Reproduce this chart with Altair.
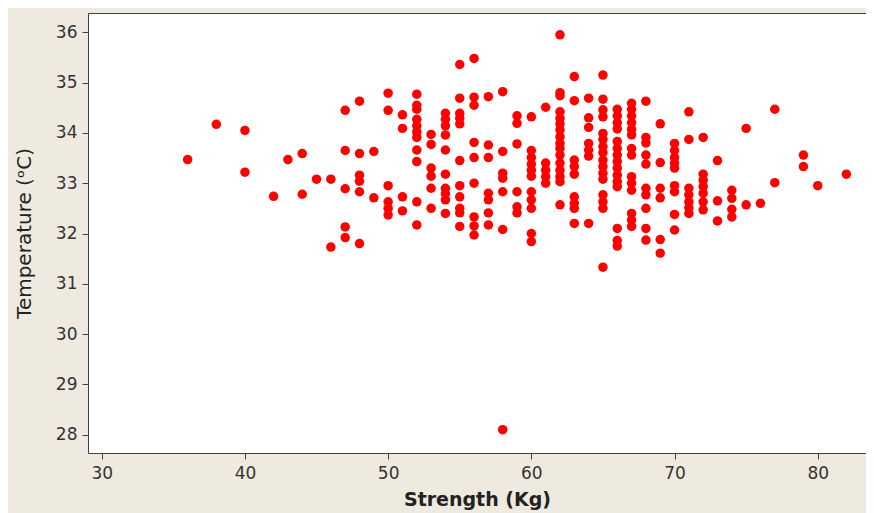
import altair as alt
import pandas as pd

# Strength (Kg) columns and the temperatures (°C) read at each column
strength_levels = [36, 38, 40, 42, 43, 44, 45, 46, 47, 48, 49, 50, 51, 52, 53, 54, 55, 56, 57, 58,
                   59, 60, 61, 62, 63, 64, 65, 66, 67, 68, 69, 70, 71, 72, 73, 74, 75, 76, 77, 79,
                   80, 82]

temperature_groups = [
    [33.47],
    [34.17],
    [34.05, 33.22],
    [32.74],
    [33.47],
    [33.59, 32.78],
    [33.08],
    [33.08, 31.73],
    [34.45, 33.65, 32.89, 32.13, 31.92],
    [34.63, 33.59, 33.16, 33.04, 32.83, 31.80],
    [33.63, 32.71],
    [34.79, 34.45, 32.95, 32.63, 32.50, 32.37],
    [34.36, 34.09, 32.73, 32.45],
    [34.77, 34.55, 34.47, 34.27, 34.14, 34.02, 33.91, 33.66, 33.43, 32.63, 32.17],
    [33.97, 33.77, 33.30, 33.14, 32.90, 32.50],
    [34.39, 34.27, 34.14, 33.96, 33.66, 33.18, 32.90, 32.79, 32.67, 32.40],
    [35.36, 34.69, 34.39, 34.29, 34.18, 33.45, 32.95, 32.73, 32.50, 32.41, 32.14],
    [35.48, 34.71, 34.55, 33.81, 33.51, 33.00, 32.33, 32.15, 31.97],
    [34.72, 33.76, 33.51, 32.80, 32.67, 32.41, 32.17],
    [34.82, 33.63, 33.20, 33.10, 32.83, 32.08, 28.10],
    [34.34, 34.19, 33.78, 32.83, 32.53, 32.41],
    [34.32, 33.65, 33.51, 33.38, 33.26, 33.14, 32.83, 32.67, 32.50, 32.00, 31.84],
    [34.51, 33.40, 33.26, 33.13, 33.00],
    [35.95, 34.80, 34.74, 34.42, 34.29, 34.18, 34.06, 33.92, 33.79, 33.69, 33.56, 33.40, 33.26,
     33.13, 33.03, 32.57],
    [35.12, 34.64, 33.46, 33.33, 33.18, 32.73, 32.60, 32.50, 32.20],
    [34.69, 34.30, 34.11, 33.79, 33.66, 33.54, 32.20],
    [35.15, 34.67, 34.46, 34.32, 33.99, 33.87, 33.73, 33.61, 33.46, 33.33, 33.20, 33.08, 32.77,
     32.63, 32.50, 31.33],
    [34.47, 34.34, 34.20, 34.08, 33.83, 33.69, 33.56, 33.43, 33.30, 33.16, 33.03, 32.93, 32.10,
     31.86, 31.75],
    [34.59, 34.47, 34.34, 34.20, 34.07, 33.96, 33.69, 33.56, 33.13, 33.00, 32.86, 32.40, 32.27,
     32.14],
    [34.63, 33.91, 33.80, 33.56, 33.38, 32.90, 32.77, 32.50, 32.10, 31.87],
    [34.18, 33.41, 32.90, 32.71, 31.88, 31.61],
    [33.79, 33.65, 33.51, 33.40, 33.30, 32.95, 32.83, 32.38, 32.07],
    [34.42, 33.87, 32.90, 32.77, 32.63, 32.51, 32.40],
    [33.91, 33.18, 33.06, 32.93, 32.80, 32.63, 32.47],
    [33.45, 32.65, 32.25],
    [32.86, 32.70, 32.48, 32.33],
    [34.09, 32.57],
    [32.60],
    [34.47, 33.01],
    [33.56, 33.33],
    [32.95],
    [33.18],
]

x_ticks = [30, 40, 50, 60, 70, 80]
y_ticks = [28, 29, 30, 31, 32, 33, 34, 35, 36]

rows = [(s, t) for s, ts in zip(strength_levels, temperature_groups) for t in ts]
df = pd.DataFrame(rows, columns=["strength", "temperature"])

chart = (
    alt.Chart(df)
    .mark_circle(size=90, color="#FF0000", opacity=1)
    .encode(
        x=alt.X(
            "strength:Q",
            scale=alt.Scale(domain=[29.04, 83.37], nice=False, zero=False),
            axis=alt.Axis(
                values=x_ticks,
                title="Strength (Kg)",
                titleFontSize=19,
                titleFontWeight="bold",
                titleY=52,
                titleBaseline="alphabetic",
                labelPadding=6,
            ),
        ),
        y=alt.Y(
            "temperature:Q",
            scale=alt.Scale(domain=[27.636, 36.384], nice=False, zero=False),
            axis=alt.Axis(
                values=y_ticks,
                title="Temperature (ᵒC)",
                titleFontSize=20,
                titleFontWeight="normal",
                titleX=-58,
                titleBaseline="alphabetic",
                labelPadding=5,
            ),
        ),
    )
    .properties(
        width=778,
        height=440,
        padding={"left": 80, "top": 5, "right": 0, "bottom": 60},
        autosize=alt.AutoSizeParams(type="none"),
        background="#EEEAE0",
    )
    .configure_view(fill="white", stroke="#404040", strokeWidth=1)
    .configure_axis(
        grid=False,
        domain=False,
        labelFont="DejaVu Sans",
        labelFontSize=17,
        labelColor="#333333",
        tickColor="#404040",
        tickSize=6,
        tickWidth=1,
        titleFont="DejaVu Sans",
        titleColor="#222222",
    )
)

chart.save("out.html", embed_options={"renderer": "svg", "actions": False})
